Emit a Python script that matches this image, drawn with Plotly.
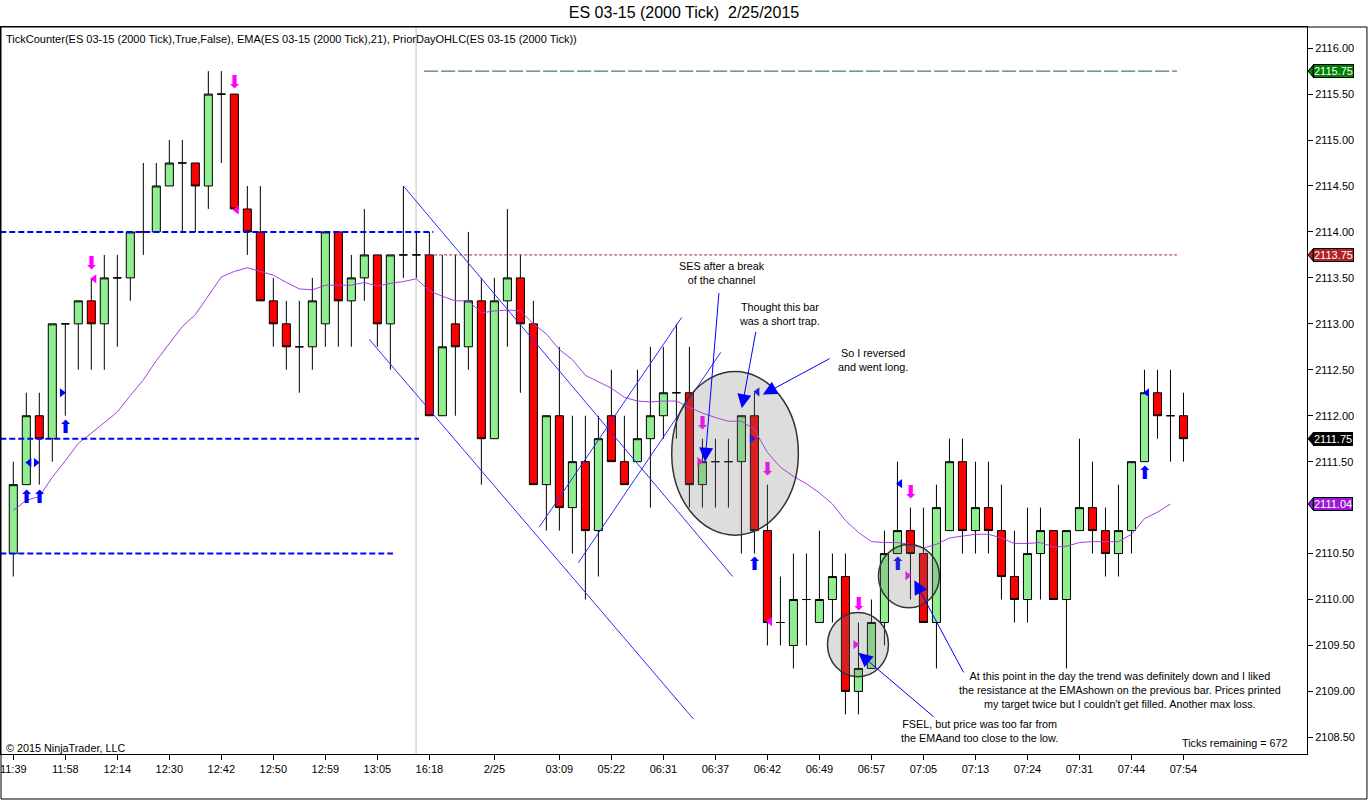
import plotly.graph_objects as go

# ES 03-15, 2000 tick bars (bar index 0..90)
bar_open = [2110.5, 2111.25, 2112.0, 2111.75, 2113.0, 2113.0, 2113.25, 2113.0, 2113.5, 2113.5,
            2114.0, 2114.0, 2114.5, 2114.75, 2114.75, 2114.5, 2115.5, 2115.5, 2114.25, 2114.0,
            2113.25, 2113.0, 2112.75, 2112.75, 2113.0, 2114.0, 2113.25, 2113.5, 2113.75, 2113.0,
            2113.75, 2113.75, 2113.75, 2112.0, 2113.0, 2112.75, 2113.25, 2111.75, 2113.25, 2113.5,
            2113.0, 2111.25, 2112.0, 2111.0, 2111.5, 2110.75, 2112.0, 2111.5, 2111.5, 2111.75,
            2112.0, 2112.25, 2112.25, 2111.25, 2111.5, 2111.5, 2111.5, 2112.0, 2110.75, 2109.75,
            2109.5, 2110.0, 2109.75, 2110.0, 2110.25, 2109.0, 2109.25, 2109.75, 2110.5, 2110.75,
            2110.5, 2109.75, 2110.75, 2111.5, 2110.75, 2111.0, 2110.75, 2110.25, 2110.0, 2110.5,
            2110.75, 2110.0, 2110.75, 2111.0, 2110.75, 2110.5, 2110.75, 2111.5, 2112.25, 2112.0,
            2112.0]
bar_high = [2111.5, 2112.25, 2112.25, 2113.0, 2113.0, 2113.25, 2113.5, 2113.75, 2113.75, 2114.0,
            2114.75, 2114.75, 2115.0, 2115.0, 2114.75, 2115.75, 2115.75, 2115.5, 2114.5, 2114.5,
            2113.5, 2113.25, 2113.25, 2113.5, 2114.0, 2114.0, 2113.75, 2114.25, 2113.75, 2113.75,
            2114.5, 2114.0, 2114.0, 2113.75, 2113.75, 2114.0, 2113.5, 2113.5, 2114.25, 2113.75,
            2113.25, 2112.0, 2112.75, 2112.0, 2112.0, 2112.0, 2112.5, 2112.0, 2112.5, 2112.75,
            2112.75, 2113.0, 2112.75, 2111.75, 2111.75, 2111.75, 2112.0, 2112.25, 2111.25, 2110.25,
            2110.5, 2110.5, 2110.75, 2110.5, 2110.5, 2109.75, 2110.0, 2110.75, 2111.5, 2111.0,
            2111.0, 2111.25, 2111.75, 2111.75, 2111.5, 2111.5, 2111.25, 2110.75, 2111.0, 2111.0,
            2110.75, 2110.75, 2111.75, 2111.5, 2111.0, 2111.25, 2111.5, 2112.5, 2112.5, 2112.5,
            2112.25]
bar_low = [2110.25, 2111.25, 2111.25, 2111.5, 2112.0, 2112.5, 2112.5, 2112.5, 2112.75, 2113.25,
           2113.75, 2114.0, 2114.5, 2114.0, 2114.0, 2114.25, 2114.75, 2114.25, 2113.75, 2113.25,
           2112.75, 2112.5, 2112.25, 2112.5, 2112.75, 2112.75, 2112.75, 2113.25, 2112.75, 2112.5,
           2113.5, 2113.5, 2112.0, 2112.0, 2112.0, 2112.5, 2111.25, 2111.75, 2112.75, 2112.25,
           2111.25, 2110.75, 2110.75, 2110.5, 2110.0, 2110.25, 2111.5, 2111.25, 2111.5, 2111.0,
           2111.75, 2111.75, 2111.0, 2111.0, 2111.0, 2111.0, 2110.5, 2110.5, 2109.5, 2109.5,
           2109.25, 2109.5, 2109.75, 2109.75, 2108.75, 2108.75, 2109.25, 2109.5, 2110.5, 2110.0,
           2109.75, 2109.25, 2110.75, 2110.5, 2110.5, 2110.5, 2110.0, 2109.75, 2109.75, 2110.0,
           2110.0, 2109.25, 2110.75, 2110.5, 2110.25, 2110.25, 2110.5, 2111.5, 2111.75, 2111.5,
           2111.5]
bar_close = [2111.25, 2112.0, 2111.75, 2113.0, 2113.0, 2113.25, 2113.0, 2113.5, 2113.5, 2114.0,
             2114.0, 2114.5, 2114.75, 2114.75, 2114.5, 2115.5, 2115.5, 2114.25, 2114.0, 2113.25,
             2113.0, 2112.75, 2112.75, 2113.25, 2114.0, 2113.25, 2113.5, 2113.75, 2113.0, 2113.75,
             2113.75, 2113.75, 2112.0, 2112.75, 2112.75, 2113.25, 2111.75, 2113.25, 2113.5, 2113.0,
             2111.25, 2112.0, 2111.0, 2111.5, 2110.75, 2111.75, 2111.5, 2111.25, 2111.75, 2112.0,
             2112.25, 2112.25, 2111.25, 2111.5, 2111.5, 2111.5, 2112.0, 2110.75, 2109.75, 2109.75,
             2110.0, 2110.0, 2110.0, 2110.25, 2109.0, 2109.25, 2109.75, 2110.5, 2110.75, 2110.5,
             2109.75, 2111.0, 2111.5, 2110.75, 2111.0, 2110.75, 2110.25, 2110.0, 2110.5, 2110.75,
             2110.0, 2110.75, 2111.0, 2110.75, 2110.5, 2110.75, 2111.5, 2112.25, 2112.0, 2112.0,
             2111.75]

# EMA(21) as plotted (ends one bar before the last)
ema21 = [2110.97, 2111.08, 2111.12, 2111.33, 2111.51, 2111.70, 2111.81, 2111.92, 2112.04, 2112.22,
         2112.39, 2112.60, 2112.78, 2112.97, 2113.10, 2113.31, 2113.51, 2113.57, 2113.61, 2113.57,
         2113.53, 2113.45, 2113.38, 2113.37, 2113.42, 2113.42, 2113.42, 2113.45, 2113.41, 2113.44,
         2113.46, 2113.49, 2113.36, 2113.30, 2113.25, 2113.25, 2113.12, 2113.14, 2113.15, 2113.14,
         2113.00, 2112.89, 2112.72, 2112.61, 2112.44, 2112.37, 2112.30, 2112.20, 2112.16, 2112.15,
         2112.16, 2112.16, 2112.09, 2112.03, 2111.98, 2111.94, 2111.94, 2111.85, 2111.60, 2111.44,
         2111.34, 2111.26, 2111.16, 2111.04, 2110.86, 2110.73, 2110.63, 2110.62, 2110.62, 2110.60,
         2110.56, 2110.60, 2110.67, 2110.69, 2110.71, 2110.71, 2110.67, 2110.61, 2110.61, 2110.62,
         2110.57, 2110.58, 2110.62, 2110.63, 2110.63, 2110.63, 2110.71, 2110.88, 2110.95, 2111.04]

tick_bars = [0, 4, 8, 12, 16, 20, 24, 28, 32, 37, 42, 46, 50, 54, 58, 62, 66, 70, 74, 78, 82, 86, 90]
tick_labels = ["11:39", "11:58", "12:14", "12:30", "12:42", "12:50", "12:59", "13:05", "16:18",
               "2/25", "03:09", "05:22", "06:31", "06:37", "06:42", "06:49", "06:57", "07:05",
               "07:13", "07:24", "07:31", "07:44", "07:54"]

# price axis labels (2111.00 sits under the EMA tag)
price_ticks = [2108.5, 2109.0, 2109.5, 2110.0, 2110.5, 2111.5, 2112.0, 2112.5, 2113.0,
               2113.5, 2114.0, 2114.5, 2115.0, 2115.5, 2116.0]

# prior day OHLC levels (blue dashed) and where each one stops
prior_levels = [2114.0, 2111.75, 2110.5]
prior_end_bar = [32.3, 31.2, 29.2]
# today's high / low markers
day_high = 2115.75
day_mid = 2113.75
level_start_bar = 31.6
level_end_bar = 89.5
session_break_bar = 30.98

# price tags on the right axis
tag_prices = [2115.75, 2113.75, 2111.75, 2111.04]
tag_text = ["2115.75", "2113.75", "2111.75", "2111.04"]
tag_colors = ["#008000", "#B22222", "#000000", "#9A1ADB"]

# hand drawn channel lines (bar, price)
line_x0 = [30.0, 27.38, 40.46, 43.46]
line_y0 = [2114.5, 2112.83, 2110.79, 2110.40]
line_x1 = [55.33, 52.31, 51.41, 54.41]
line_y1 = [2110.25, 2108.70, 2113.07, 2112.69]

# grey ellipses
ell_x0 = [50.64, 62.62, 66.54]
ell_x1 = [60.38, 67.31, 71.23]
ell_y0 = [2110.70, 2109.16, 2109.91]
ell_y1 = [2112.48, 2109.86, 2110.60]

# signal markers
down_arrow_x = [6, 17, 53, 58, 65, 69]
down_arrow_y = [2113.65, 2115.62, 2111.90, 2111.40, 2109.93, 2111.15]
up_arrow_x = [1, 2, 4, 57, 68, 87]
up_arrow_y = [2111.10, 2111.10, 2111.86, 2110.37, 2110.37, 2111.36]
pink_left_x = [6.23, 17.18, 58.2]
pink_left_y = [2113.49, 2114.24, 2109.76]
pink_right_x = [52.77, 64.77, 68.77]
pink_right_y = [2111.5, 2109.51, 2110.26]
blue_left_x = [1.23, 57.23, 68.2, 87.2]
blue_left_y = [2111.49, 2112.26, 2111.26, 2112.25]
blue_right_x = [1.74, 3.74, 56.8]
blue_right_y = [2111.49, 2112.25, 2111.75]

# notes: text, centre, arrow tail and tip
note_text = ["SES after a break<br>of the channel",
             "Thought this bar<br>was a short trap.",
             "So I reversed<br>and went long.",
             "At this point in the day the trend was definitely down and I liked<br>"
             "the resistance at the EMAshown on the previous bar. Prices printed<br>"
             "my target twice but I couldn't get filled. Another max loss.",
             "FSEL, but price was too far from<br>the EMAand too close to the low."]
note_x = [54.49, 58.9, 66.09, 85.13, 74.28]
note_y = [2113.55, 2113.11, 2112.61, 2109.02, 2108.57]
arrow_tail_x = [54.28, 57.13, 62.9, 73.15, 70.9]
arrow_tail_y = [2113.35, 2112.93, 2112.63, 2109.19, 2108.71]
arrow_tip_x = [53.2, 56.03, 57.65, 69.3, 65.0]
arrow_tip_y = [2111.50, 2112.08, 2112.23, 2110.21, 2109.42]

FONT = "Liberation Sans, Arial, sans-serif"
bars = list(range(len(bar_open)))

fig = go.Figure()

fig.add_trace(go.Candlestick(
    x=bars, open=bar_open, high=bar_high, low=bar_low, close=bar_close,
    increasing=dict(fillcolor="#90EE90", line=dict(color="black", width=1)),
    decreasing=dict(fillcolor="#FF0000", line=dict(color="black", width=1)),
    whiskerwidth=0, hoverinfo="skip",
))

fig.add_trace(go.Scatter(x=bars[:len(ema21)], y=ema21, mode="lines",
                         line=dict(color="#A63FE0", width=1), hoverinfo="skip"))

# signal arrows
fig.add_trace(go.Scatter(x=down_arrow_x, y=down_arrow_y, mode="text", text=["⬇"] * len(down_arrow_x),
                         textfont=dict(family="DejaVu Sans", size=18, color="#FF00FF"), hoverinfo="skip"))
fig.add_trace(go.Scatter(x=up_arrow_x, y=up_arrow_y, mode="text", text=["⬆"] * len(up_arrow_x),
                         textfont=dict(family="DejaVu Sans", size=18, color="#0000FF"), hoverinfo="skip"))
for xs, ys, sym, col in [(pink_left_x, pink_left_y, "triangle-left", "#FF00FF"),
                         (pink_right_x, pink_right_y, "triangle-right", "#FF00FF"),
                         (blue_left_x, blue_left_y, "triangle-left", "#0000FF"),
                         (blue_right_x, blue_right_y, "triangle-right", "#0000FF")]:
    fig.add_trace(go.Scatter(x=xs, y=ys, mode="markers",
                             marker=dict(symbol=sym, size=8, color=col, line=dict(width=0)),
                             hoverinfo="skip"))

# horizontal levels
for lvl, end in zip(prior_levels, prior_end_bar):
    fig.add_shape(type="line", x0=-1, x1=end, y0=lvl, y1=lvl, xref="x", yref="y",
                  line=dict(color="#0000FF", width=2, dash="6px,3px"), layer="above")
fig.add_shape(type="line", x0=level_start_bar, x1=level_end_bar, y0=day_high, y1=day_high,
              line=dict(color="#1F5F1F", width=1, dash="14px,3px"))
fig.add_shape(type="line", x0=level_start_bar, x1=level_end_bar, y0=day_mid, y1=day_mid,
              line=dict(color="#A52A2A", width=1, dash="3px,2px"))

# session break
fig.add_shape(type="line", x0=session_break_bar, x1=session_break_bar, y0=0, y1=1,
              xref="x", yref="paper", line=dict(color="#C0C0C0", width=1), layer="below")

# channel lines
for a, b, c, d in zip(line_x0, line_y0, line_x1, line_y1):
    fig.add_shape(type="line", x0=a, y0=b, x1=c, y1=d, line=dict(color="#2B2BFF", width=1))

# ellipses
for a, b, c, d in zip(ell_x0, ell_x1, ell_y0, ell_y1):
    fig.add_shape(type="circle", x0=a, x1=b, y0=c, y1=d, layer="above",
                  fillcolor="rgba(120,120,120,0.25)", line=dict(color="#333333", width=1.5))

# notes and arrows
for t, x, y in zip(note_text, note_x, note_y):
    fig.add_annotation(x=x, y=y, text=t, showarrow=False, align="center",
                       font=dict(family=FONT, size=10.8, color="black"))
for tx, ty, hx, hy in zip(arrow_tail_x, arrow_tail_y, arrow_tip_x, arrow_tip_y):
    fig.add_annotation(x=hx, y=hy, ax=tx, ay=ty, axref="x", ayref="y", text="",
                       showarrow=True, arrowhead=2, arrowsize=2.8, arrowwidth=1,
                       arrowcolor="#0000FF", standoff=0)

# price tags
for p, t, c in zip(tag_prices, tag_text, tag_colors):
    fig.add_annotation(x=1.0046, y=p, xref="paper", yref="y", xanchor="left", yanchor="middle",
                       text=t, showarrow=False, font=dict(family=FONT, size=11, color="white"),
                       bgcolor=c, bordercolor="black", borderwidth=1, borderpad=0)
    fig.add_shape(type="path", xref="paper", yref="y",
                  path=f"M 1.0047 {p + 0.066} L 1.0008 {p} L 1.0047 {p - 0.066} Z",
                  fillcolor=c, line=dict(color="black", width=1))

# outer frame
fig.add_shape(type="rect", xref="paper", yref="paper", x0=0, x1=1.0459, y0=-0.0619, y1=1,
              line=dict(color="black", width=1))

fig.add_annotation(x=0.0023, y=0.9835, xref="paper", yref="paper", xanchor="left", yanchor="middle",
                   showarrow=False, font=dict(family=FONT, size=11, color="black"),
                   text="TickCounter(ES 03-15 (2000 Tick),True,False), EMA(ES 03-15 (2000 Tick),21), "
                        "PriorDayOHLC(ES 03-15 (2000 Tick))")
fig.add_annotation(x=0.0023, y=0.0087, xref="paper", yref="paper", xanchor="left", yanchor="middle",
                   showarrow=False, font=dict(family=FONT, size=10.8, color="black"),
                   text="© 2015 NinjaTrader, LLC")
fig.add_annotation(x=0.987, y=0.0151, xref="paper", yref="paper", xanchor="right", yanchor="middle",
                   showarrow=False, font=dict(family=FONT, size=10.8, color="black"),
                   text="Ticks remaining = 672")

fig.update_layout(
    width=1368, height=800,
    margin=dict(l=1, r=61, t=27, b=46),
    paper_bgcolor="white", plot_bgcolor="white",
    showlegend=False,
    boxgap=0.38, boxgroupgap=0,
    title=dict(text="ES 03-15 (2000 Tick)  2/25/2015", x=0.5, xanchor="center",
               y=0.984, yanchor="middle", font=dict(family=FONT, size=16, color="black")),
    xaxis=dict(range=[-0.946, 99.5], showgrid=False, zeroline=False, showline=True,
               linecolor="black", linewidth=1, mirror=True, ticks="outside", ticklen=5,
               tickcolor="black", tickvals=tick_bars, ticktext=tick_labels,
               ticklabeloverflow="allow",
               tickfont=dict(family=FONT, size=11, color="black"),
               rangeslider=dict(visible=False)),
    yaxis=dict(range=[2108.319, 2116.23], side="right", showgrid=False, zeroline=False,
               showline=True, linecolor="black", linewidth=1, mirror=True, ticks="outside",
               ticklen=5, tickcolor="black", tickvals=price_ticks, tickformat=".2f",
               tickfont=dict(family=FONT, size=11, color="black")),
)

fig.write_html("out.html", config={"displayModeBar": False},
               post_script="document.body.style.margin='0px';")
